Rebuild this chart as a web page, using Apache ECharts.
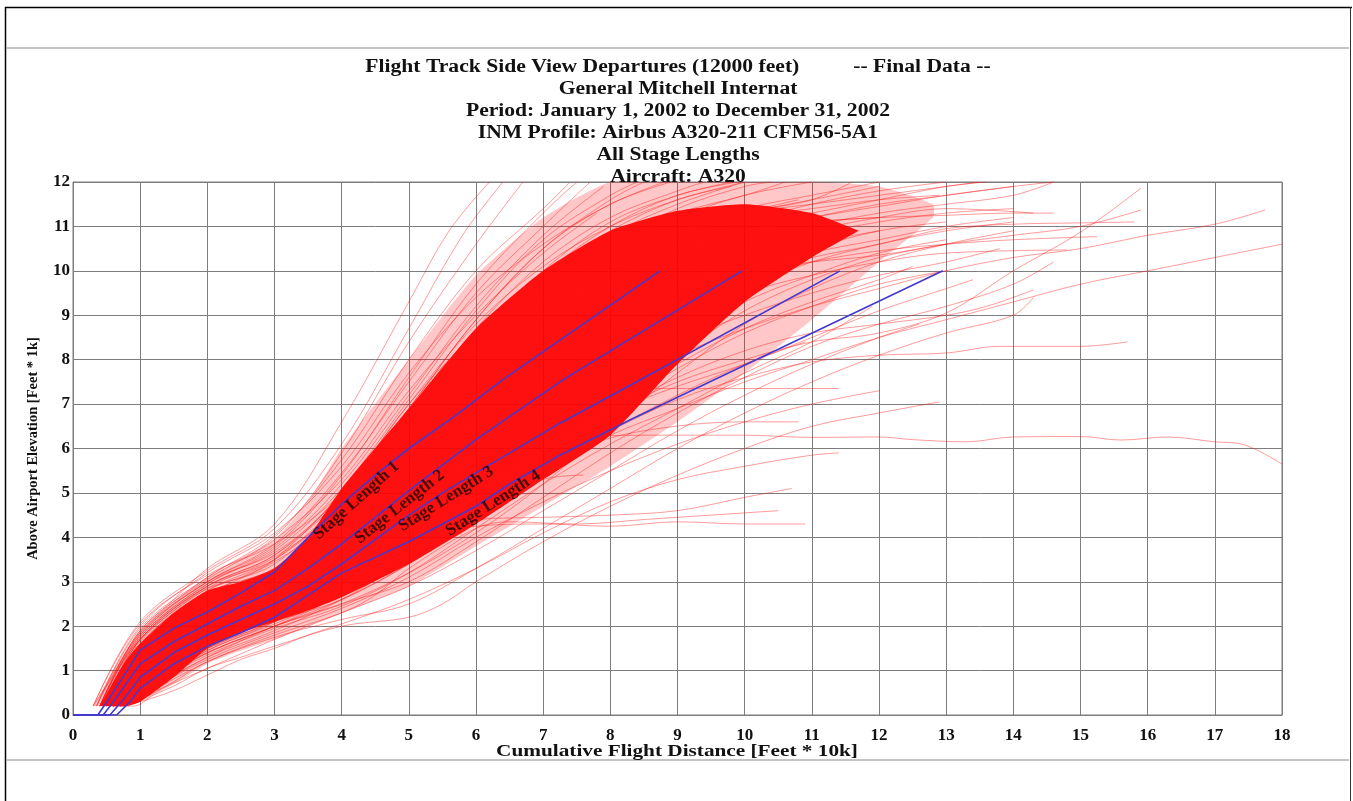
<!DOCTYPE html>
<html>
<head>
<meta charset="utf-8">
<title>Flight Track Side View Departures</title>
<script src="https://cdn.jsdelivr.net/npm/echarts@6/dist/echarts.min.js"></script>
<style>
  html, body { margin: 0; padding: 0; background: #ffffff; }
  #chart { width: 1353px; height: 801px; }
</style>
</head>
<body>
<div id="chart"></div>
<script>
// ---- Text -----------------------------------------------------------------
const titleLines = [
  'Flight Track Side View Departures (12000 feet)          -- Final Data --',
  'General Mitchell Internat',
  'Period: January 1, 2002 to December 31, 2002',
  'INM Profile: Airbus A320-211 CFM56-5A1',
  'All Stage Lengths',
  'Aircraft: A320'
];
const xAxisTitle = 'Cumulative Flight Distance [Feet * 10k]';
const yAxisTitle = 'Above Airport Elevation [Feet * 1k]';
const xTickLabels = ['0','1','2','3','4','5','6','7','8','9','10','11','12','13','14','15','16','17','18'];
const yTickLabels = ['0','1','2','3','4','5','6','7','8','9','10','11','12'];

// ---- INM stage-length profiles (distance 10k ft, altitude 1k ft) ----------
const stage1 = [[0,0],[0.37,0],[0.55,0.4],[1,1.46],[1.5,1.95],[2,2.32],[2.5,2.75],[3,3.22],[3.5,4.0],[4,4.75],[4.5,5.4],[5,6.0],[5.66,6.7],[6.4,7.55],[7.25,8.44],[8.74,10]];
const stage2 = [[0,0],[0.45,0],[0.65,0.4],[1,1.15],[1.5,1.65],[2,2.05],[2.5,2.45],[3,2.8],[3.5,3.3],[4,3.85],[4.5,4.45],[5,5.05],[6,6.2],[7.3,7.55],[9.96,10]];
const stage3 = [[0,0],[0.55,0],[0.75,0.35],[1,0.85],[1.5,1.4],[2,1.8],[2.5,2.15],[3,2.5],[3.5,2.9],[4,3.4],[4.5,3.95],[5,4.5],[5.5,5.0],[6,5.45],[7.25,6.57],[8.29,7.42],[11.42,10]];
const stage4 = [[0,0],[0.65,0],[0.85,0.3],[1,0.6],[1.5,1.15],[2,1.55],[2.5,1.85],[3,2.2],[3.5,2.7],[4,3.2],[5,3.9],[5.5,4.3],[6,4.7],[6.5,5.2],[7.25,5.85],[8.29,6.64],[12.95,10]];
const stageNames = ['Stage Length 1','Stage Length 2','Stage Length 3','Stage Length 4'];
const stageLabelAt = [4.15, 4.8, 5.5, 6.2];

// ---- Density envelopes of the radar tracks -------------------------------
const haloX    = [0.3,0.6,1,1.5,2,2.5,3,3.5,4,5,6,7,8,9,10,11,12,12.8];
const haloHigh = [0.2,1.0,1.9,2.55,3.1,3.5,3.95,4.8,6.0,8.0,9.9,11.2,12,12,12,12,11.9,11.5];
const haloLow  = [0.2,0.2,0.3,0.7,1.15,1.45,1.7,2.0,2.3,2.9,3.8,4.7,5.6,6.6,7.7,8.9,10.2,11.2];
const coreX    = [0.4,0.6,0.8,1,1.5,2,2.5,3,3.5,4,5,6,7,8,9,10,11,11.7];
const coreHigh = [0.2,0.75,1.25,1.6,2.3,2.8,3.0,3.3,4.0,5.1,6.9,8.7,10.0,10.9,11.35,11.5,11.3,10.9];
const coreLow  = [0.2,0.2,0.2,0.3,0.85,1.5,1.85,2.1,2.35,2.65,3.4,4.3,5.3,6.3,7.9,9.3,10.3,10.9];

// ---- Individual radar tracks ----------------------------------------------
const upperTracks = [
  [[0.3,0.2],[0.6,0.9],[1,1.9],[1.5,2.6],[2,3.3],[3,4.3],[4,6.6],[5,9.3],[5.6,10.9],[6.2,12]],
  [[0.35,0.2],[1,1.85],[2,3.1],[3,4.0],[4,5.9],[5,8.4],[6,10.6],[6.7,12]],
  [[0.4,0.2],[1,1.8],[2,3.0],[3,3.8],[4,5.4],[5,7.6],[6,9.7],[7,11.3],[7.5,12]],
  [[0.4,0.2],[1,1.75],[2,2.95],[3,3.7],[4,5.1],[5,7.1],[6,9.1],[7,10.7],[8,11.7],[8.4,12]],
  [[0.45,0.2],[1,1.7],[2,2.9],[3,3.6],[4,4.9],[5,6.8],[6,8.7],[7,10.2],[8,11.2],[9,11.8],[9.4,12]],
  [[0.35,0.2],[1,2.0],[2,3.2],[3,4.1],[4,5.6],[5,7.7],[6,9.4],[7,10.6],[8,11.5],[8.8,12]],
  [[0.5,0.2],[1,1.65],[2,2.85],[3,3.55],[4,4.7],[5,6.4],[6,8.2],[7,9.7],[8,10.8],[9,11.5],[10,12]],
  [[0.4,0.2],[1,1.9],[2,3.05],[3,3.95],[4,5.3],[5,7.3],[6,9.0],[7,10.4],[7.8,11.3]],
  [[0.45,0.2],[1,1.6],[2,2.7],[3,3.45],[4,4.5],[5,6.0],[6,7.8],[7,9.4],[8,10.6],[9,11.4],[10,11.9],[10.4,12]],
  [[0.3,0.2],[1,2.05],[2,3.15],[3,3.85],[4,5.0],[5,6.9],[6,8.9],[7,10.5],[8,11.6],[8.5,12]],
  [[0.35,0.2],[1,1.95],[2,3.1],[3,4.05],[4,5.75],[5,8.0],[6,10.0],[7,11.4],[7.4,12]],
  [[0.4,0.2],[1,1.85],[2,3.0],[3,3.85],[4,5.45],[5,7.5],[6,9.5],[7,11.0],[7.7,12]],
  [[0.45,0.2],[1,1.75],[2,2.95],[3,3.75],[4,5.2],[5,7.2],[6,9.2],[7,10.8],[7.9,11.9]],
  [[0.4,0.2],[1,1.8],[2,3.0],[3,3.65],[4,4.95],[5,6.9],[6,8.9],[7,10.5],[8,11.5],[8.9,12]],
  [[0.5,0.2],[1,1.7],[2,2.9],[3,3.5],[4,4.75],[5,6.6],[6,8.5],[7,10.0],[8,11.1],[9,11.7],[9.8,12]],
  [[0.3,0.2],[1,2.1],[2,3.25],[3,4.2],[4,6.1],[5,8.7],[5.8,10.8],[6.4,12]],
  [[0.45,0.2],[1,1.7],[2,2.9],[3,3.6],[4,5.0],[5,7.0],[6,8.6],[7,9.9],[8,10.9],[9,11.6],[9.8,11.9]],
  [[0.5,0.2],[1,1.6],[2,2.8],[3,3.5],[4,4.8],[5,6.5],[6,8.3],[7,9.9],[8,11.0],[9,11.7],[9.9,12]]
];
const coreTracks = [
  [[0.4,0.2],[0.7,1.0],[1,1.6],[1.5,2.2],[2,2.7],[2.5,3.0],[3,3.3],[3.5,3.9],[4,4.8],[5,6.5],[6,8.2],[7,9.5],[8,10.5],[9,11.2],[10,11.7],[11,12]],
  [[0.45,0.2],[0.8,1.1],[1,1.5],[1.5,2.1],[2,2.6],[2.5,2.95],[3,3.2],[4,4.4],[5,6.0],[6,7.7],[7,9.1],[8,10.2],[9,10.9],[10,11.4],[11,11.7],[12,12]],
  [[0.5,0.2],[0.8,0.9],[1,1.4],[1.5,2.0],[2,2.5],[3,3.1],[4,4.1],[5,5.6],[6,7.3],[7,8.8],[8,9.9],[9,10.6],[10,11.1],[11,11.5],[12,11.8],[13,12]],
  [[0.5,0.2],[0.85,0.8],[1,1.2],[1.5,1.85],[2,2.35],[3,3.0],[4,3.9],[5,5.3],[6,7.0],[7,8.5],[8,9.7],[9,10.5],[10,11.0],[11,11.3],[12,11.6],[13,11.9],[13.6,12]],
  [[0.55,0.2],[1,1.1],[1.5,1.75],[2,2.25],[3,2.9],[4,3.7],[5,5.0],[6,6.6],[7,8.1],[8,9.4],[9,10.3],[10,10.9],[11,11.2],[12,11.5],[13,11.7],[14,11.9]],
  [[0.55,0.2],[1,1.0],[1.5,1.6],[2,2.1],[3,2.75],[4,3.5],[5,4.7],[6,6.2],[7,7.7],[8,9.0],[9,10.0],[10,10.6],[11,11.0],[12,11.3],[13,11.5],[14,11.7],[14.6,12]],
  [[0.6,0.2],[1,0.9],[1.5,1.5],[2,2.0],[3,2.6],[4,3.3],[5,4.4],[6,5.8],[7,7.3],[8,8.6],[9,9.6],[10,10.3],[11,10.8],[12,11.1],[13,11.3],[14,11.4]],
  [[0.6,0.2],[1,0.8],[1.5,1.4],[2,1.85],[3,2.45],[4,3.1],[5,4.1],[6,5.4],[7,6.8],[8,8.1],[9,9.2],[10,10.0],[11,10.5],[12,10.9],[13,11.1]],
  [[0.65,0.2],[1,0.7],[1.5,1.3],[2,1.75],[3,2.3],[4,2.9],[5,3.8],[6,5.0],[7,6.4],[8,7.7],[9,8.8],[10,9.6],[11,10.2],[12,10.6],[13,10.9],[14,11.1]],
  [[0.7,0.2],[1,0.6],[1.5,1.2],[2,1.6],[3,2.2],[4,2.75],[5,3.6],[6,4.7],[7,6.0],[8,7.3],[9,8.4],[10,9.3],[11,9.9],[12,10.4],[13,10.7]],
  [[0.4,0.2],[0.7,1.1],[1,1.7],[1.5,2.35],[2,2.85],[2.5,3.1],[3,3.5],[4,5.0],[5,7.0],[6,8.8],[7,10.1],[8,11.0],[9,11.6],[10,12]],
  [[0.45,0.2],[1,1.55],[2,2.75],[3,3.3],[4,4.6],[5,6.3],[6,8.0],[7,9.3],[8,10.3],[9,10.9],[10,11.3],[11,11.6],[12,11.9]],
  [[0.5,0.2],[1,1.3],[2,2.4],[3,3.0],[4,4.0],[5,5.5],[6,7.2],[7,8.7],[8,9.8],[9,10.7],[10,11.2],[11,11.4],[12,11.6],[12.9,11.7]],
  [[0.55,0.2],[1,1.2],[2,2.2],[3,2.85],[4,3.8],[5,5.1],[6,6.8],[7,8.3],[8,9.5],[9,10.4],[10,10.9],[11,11.1],[12,11.2]],
  [[0.6,0.2],[1,1.0],[2,2.05],[3,2.7],[4,3.4],[5,4.6],[6,6.0],[7,7.5],[8,8.8],[9,9.8],[10,10.5],[11,10.9],[12,11.2],[13,11.4],[14.3,11.3]],
  [[0.65,0.2],[1,0.85],[2,1.9],[3,2.5],[4,3.2],[5,4.3],[6,5.6],[7,7.0],[8,8.3],[9,9.4],[10,10.1],[11,10.6],[12,10.9]],
  [[0.7,0.2],[1,0.7],[2,1.7],[3,2.35],[4,3.0],[5,3.9],[6,5.2],[7,6.6],[8,7.9],[9,9.0],[10,9.9],[11,10.4],[12,10.7],[13,11.0],[14,11.2]],
  [[0.5,0.2],[1,1.45],[2,2.65],[2.5,2.95],[3,3.2],[4,4.3],[5,5.9],[6,7.6],[7,9.0],[8,10.0],[9,10.8],[10,11.3],[10.8,11.6]],
  [[0.55,0.2],[1,1.25],[2,2.3],[3,2.95],[4,3.6],[5,4.8],[6,6.4],[7,7.9],[8,9.2],[9,10.1],[10,10.7],[11,11.0]],
  [[0.6,0.2],[1,0.95],[2,1.95],[3,2.55],[4,3.25],[5,4.4],[6,5.9],[7,7.1],[8,8.4],[9,9.5],[10,10.2],[10.8,10.5]],
  [[0.75,0.2],[1,0.55],[1.5,1.1],[2,1.5],[3,2.1],[4,2.6],[5,3.4],[6,4.4],[7,5.6],[8,6.9],[9,8.1],[10,9.1],[11,9.8],[12,10.3],[13,10.6]],
  [[0.8,0.2],[1,0.45],[1.5,1.0],[2,1.4],[3,2.0],[4,2.5],[5,3.2],[6,4.1],[7,5.2],[8,6.5],[9,7.7],[10,8.8],[11,9.6],[12,10.2],[13,10.6],[14,10.9]],
  [[0.45,0.2],[1,1.6],[2,2.8],[3,3.4],[4,4.8],[5,6.8],[6,8.5],[7,9.8],[8,10.7],[9,11.3],[10,11.7],[10.6,12]],
  [[0.5,0.2],[1,1.35],[2,2.45],[3,3.05],[4,4.2],[5,5.8],[6,7.5],[7,8.9],[8,10.0],[9,10.8],[10,11.3],[11,11.6],[11.6,12]]
];
const lowerTracks = [
  [[0.55,0.2],[0.9,0.2],[1.2,0.45],[1.5,0.65],[2,1.05],[2.5,1.3],[3,1.55],[4,2.0],[5,2.2],[5.5,2.5],[6,3.0],[7,3.9],[8,4.7],[9,5.4],[10,6.0],[11,6.5],[12,6.8],[12.9,7.05]],
  [[0.6,0.2],[1,0.35],[1.5,0.75],[2,1.2],[3,1.75],[4,2.15],[5,2.5],[6,3.3],[7,4.2],[8,5.1],[9,6.0],[10,6.8],[11,7.5],[12,8.1],[13,8.6],[14,9.0],[14.3,9.4]],
  [[0.65,0.2],[1,0.45],[2,1.3],[3,1.9],[4,2.6],[5,3.5],[5.5,4.0],[6,4.25],[7,4.3],[8,4.25],[9,4.35],[10,4.3],[10.9,4.3]],
  [[0.6,0.2],[1,0.5],[2,1.45],[3,2.1],[4,3.0],[4.5,3.6],[5,4.1],[6,4.4],[7,4.45],[8,4.5],[9,4.6],[10,4.9],[10.7,5.1]],
  [[0.55,0.2],[1,0.7],[2,1.6],[3,2.2],[4,2.9],[5,3.8],[6,4.5],[7,5.3],[7.6,5.4]],
  [[0.6,0.2],[1,0.65],[2,1.6],[3,2.3],[4,3.1],[5,4.2],[6,5.4],[6.7,6.1],[7.5,6.28],[9,6.3],[10,6.3],[11,6.25],[12,6.26],[12.5,6.2],[13.3,6.15],[14,6.26],[15,6.27],[15.6,6.19],[16.3,6.26],[17,6.15],[17.4,6.1],[18,5.65]],
  [[0.6,0.2],[1,0.6],[2,1.55],[3,2.25],[4,3.0],[5,4.0],[6,5.1],[7,6.3],[8,7.1],[8.5,7.35],[10,7.35],[11.4,7.35]],
  [[0.65,0.2],[1,0.55],[2,1.5],[3,2.2],[4,2.9],[5,3.7],[6,4.7],[7,5.6],[8,6.4],[9,7.1],[10,7.6],[11,7.95],[12,8.1],[13,8.15],[13.8,8.3],[15,8.3],[15.7,8.4]],
  [[0.6,0.2],[1,0.5],[2,1.4],[3,2.0],[4,2.7],[5,3.6],[6,4.6],[7,5.5],[8,6.3],[9,6.9],[10,7.5],[11,8.0],[12,8.5],[13,8.9],[14,9.3],[15,9.7],[16,10.0],[17,10.3],[18,10.6]],
  [[0.7,0.2],[1,0.3],[1.5,0.55],[2,0.9],[2.5,1.25],[3,1.5],[3.5,1.8],[4,2.05],[5,2.6],[6,3.3],[7,4.1],[8,4.8],[9,5.3],[10,5.6],[11,5.85],[11.4,5.9]],
  [[0.65,0.2],[1,0.4],[2,1.05],[3,1.7],[4,2.3],[5,2.9],[6,3.7],[7,4.6],[8,5.5],[9,6.4],[10,7.2],[11,7.9],[12,8.5],[12.6,8.8]],
  [[0.6,0.2],[1,0.55],[2,1.35],[3,1.95],[4,2.45],[5,3.2],[6,4.2],[7,5.2],[8,6.1],[9,6.9],[10,7.7],[11,8.4],[11.9,9.2]],
  [[0.55,0.2],[1,0.8],[2,1.7],[3,2.3],[4,2.95],[5,3.9],[6,4.9],[7,5.9],[8,6.9],[9,7.8],[10,8.6],[11,9.2],[12,9.7],[13,10.0]],
  [[0.7,0.2],[1,0.4],[2,1.2],[3,1.8],[4,2.3],[4.5,2.7],[5,3.3],[6,4.2],[6.5,4.35],[7.5,4.3],[8.5,4.4],[9.5,4.5],[10.5,4.6]],
  [[0.6,0.2],[1,0.5],[2,1.3],[3,2.0],[4,2.5],[5,3.0],[6,3.9],[7,4.9],[8,5.9],[9,6.8],[10,7.6],[11,8.3],[12,8.8],[13,9.2],[14,9.7],[14.6,10.2]],
  [[0.6,0.2],[1,0.7],[2,1.7],[3,2.3],[4,3.0],[5,3.9],[6,5.0],[7,6.0],[8,6.8],[9,7.4],[10,7.9],[11,8.5],[12,9.1],[13,9.6],[13.4,9.8]],
  [[0.65,0.2],[1,0.55],[2,1.45],[3,2.05],[4,2.7],[5,3.5],[6,4.5],[7,5.5],[8,6.4],[9,7.2],[10,7.9],[10.9,8.4]],
  [[0.6,0.2],[1,0.6],[2,1.5],[3,2.1],[4,2.8],[5,3.7],[6,4.9],[7,6.0],[8,7.0],[9,7.9],[10,8.7],[11,9.3],[12,9.8],[12.5,10.1]],
  [[0.7,0.2],[1,0.45],[2,1.25],[3,1.85],[4,2.4],[5,3.1],[6,4.0],[7,4.8],[8,5.5],[9,6.1],[10,6.6],[11,7.0],[12,7.3]],
  [[0.65,0.2],[1,0.5],[2,1.4],[3,2.0],[4,2.6],[5,3.4],[6,4.4],[7,5.6],[7.5,6.0],[8.5,6.4],[10,6.6],[10.8,6.6]],
  [[0.55,0.2],[1,0.85],[2,1.8],[3,2.4],[4,3.1],[5,4.1],[6,5.3],[7,6.6],[8,7.6],[9,8.4],[10,9.0],[11,9.5],[12,9.9],[13,10.2],[13.8,10.5]]
];
const farTracks = [
  [[0.5,0.2],[1,1.2],[2,2.3],[3,2.9],[4,3.6],[5,4.7],[6,6.0],[7,7.2],[8,8.3],[9,9.2],[10,9.9],[11,10.3],[12,10.6],[13,10.95],[14,11.05],[15,11.08],[15.8,11.1]],
  [[0.6,0.2],[1,0.8],[2,1.8],[3,2.4],[4,3.0],[5,3.9],[6,4.9],[7,5.9],[8,6.8],[9,7.5],[10,8.0],[11,8.4],[12,8.6],[13,9.05],[14,10.0],[15,10.87],[15.9,11.86]],
  [[0.55,0.2],[1,0.9],[2,1.95],[3,2.55],[4,3.2],[5,4.2],[6,5.4],[7,6.5],[8,7.4],[9,8.1],[10,8.7],[11,9.2],[12,9.6],[13,10.0],[14,10.3],[15,10.5],[16,10.8],[17,11.05],[17.75,11.37]],
  [[0.5,0.2],[1,1.3],[2,2.4],[3,3.0],[4,3.9],[5,5.2],[6,6.7],[7,8.0],[8,9.0],[9,9.6],[10,10.0],[11,10.2],[12,10.35],[13,10.6],[14,10.8],[15,11.0],[15.9,11.37]],
  [[0.45,0.2],[1,1.5],[2,2.6],[3,3.2],[4,4.3],[5,5.9],[6,7.5],[7,8.9],[8,9.9],[9,10.5],[10,10.9],[11,11.1],[12,11.2],[13,11.25],[14,11.3],[14.6,11.3]],
  [[0.55,0.2],[1,1.1],[2,2.15],[3,2.75],[4,3.4],[5,4.5],[6,5.9],[7,7.3],[8,8.4],[9,9.2],[10,9.8],[11,10.2],[12,10.45],[13,10.6],[14,10.7],[15.25,10.77]],
  [[0.6,0.2],[1,0.95],[2,2.0],[3,2.6],[4,3.3],[5,4.4],[6,5.7],[7,7.0],[8,8.0],[9,8.9],[10,9.5],[11,9.9],[12,10.2],[13,10.4],[14.8,10.47]],
  [[0.5,0.2],[1,1.4],[2,2.5],[3,3.05],[4,4.0],[5,5.5],[6,7.2],[7,8.6],[8,9.7],[9,10.4],[10,10.9],[11,11.2],[12,11.45],[13,11.7],[14,11.9],[14.6,12]],
  [[0.45,0.2],[1,1.55],[2,2.6],[3,3.15],[4,4.4],[5,6.1],[6,7.9],[7,9.3],[8,10.3],[9,10.9],[10,11.3],[11,11.5],[12,11.7],[13,11.9],[13.5,12]],
  [[0.65,0.2],[1,0.6],[2,1.65],[3,2.3],[4,2.9],[5,3.7],[6,4.7],[7,5.8],[8,6.8],[9,7.6],[10,8.2],[11,8.6],[12,8.8],[13,9.0],[13.6,9.2],[14.3,9.57]]
];

// ---- Styling ---------------------------------------------------------------
const SERIF = '"Liberation Serif", "Times New Roman", serif';
const GRID_COLOR = '#7d7d7d';
const TRACK_COLOR = 'rgba(255, 20, 20, 0.42)';
const STAGE_COLOR = '#4338d0';

const chart = echarts.init(document.getElementById('chart'), null, { renderer: 'canvas' });

function bandSeries(xs, hi, lo, opacity) {
  return {
    type: 'custom',
    silent: true,
    z: 1,
    clip: true,
    data: [[xs[0], lo[0]]],
    renderItem: function (params, api) {
      const pts = [];
      for (let i = 0; i < xs.length; i++) pts.push(api.coord([xs[i], hi[i]]));
      for (let i = xs.length - 1; i >= 0; i--) pts.push(api.coord([xs[i], lo[i]]));
      return { type: 'polygon', shape: { points: pts, smooth: 0.2 }, style: { fill: '#ff0000', opacity: opacity } };
    }
  };
}

function trackSeries(track) {
  return {
    type: 'line', data: track, showSymbol: false, smooth: 0.35, silent: true, z: 2,
    lineStyle: { color: TRACK_COLOR, width: 1 }
  };
}

const stages = [stage1, stage2, stage3, stage4];
const series = [
  bandSeries(haloX, haloHigh, haloLow, 0.22),
  bandSeries(coreX, coreHigh, coreLow, 0.92)
];
[upperTracks, coreTracks, lowerTracks, farTracks].forEach(group => group.forEach(t => series.push(trackSeries(t))));
stages.forEach(s => series.push({
  type: 'line', data: s, showSymbol: false, silent: true, z: 3,
  lineStyle: { color: STAGE_COLOR, width: 1.6 }
}));

const graphic = [
  { type: 'line', shape: { x1: 5, y1: 7.5, x2: 1352, y2: 7.5 }, style: { stroke: '#000', lineWidth: 1.5 } },
  { type: 'line', shape: { x1: 5.5, y1: 7, x2: 5.5, y2: 801 }, style: { stroke: '#000', lineWidth: 1.5 } },
  { type: 'line', shape: { x1: 1350.5, y1: 7, x2: 1350.5, y2: 801 }, style: { stroke: '#333', lineWidth: 1 } },
  { type: 'line', shape: { x1: 7, y1: 48, x2: 1349, y2: 48 }, style: { stroke: '#c4c4c4', lineWidth: 2 } },
  { type: 'line', shape: { x1: 7, y1: 760, x2: 1349, y2: 760 }, style: { stroke: '#c4c4c4', lineWidth: 2 } }
];
titleLines.forEach((t, i) => graphic.push({
  type: 'text', x: 678, y: 67 + i * 22.1, scaleX: 1.2, z: 10,
  style: { text: t, font: 'bold 18px ' + SERIF, fill: '#111', textAlign: 'center', textVerticalAlign: 'middle' }
}));
graphic.push({
  type: 'text', x: 677, y: 752, scaleX: 1.25, z: 10,
  style: { text: xAxisTitle, font: 'bold 17px ' + SERIF, fill: '#111', textAlign: 'center', textVerticalAlign: 'middle' }
});

const option = {
  animation: false,
  backgroundColor: '#ffffff',
  grid: { left: 73, right: 71, top: 182, bottom: 86, show: true, borderColor: GRID_COLOR, borderWidth: 1 },
  xAxis: {
    type: 'value', min: 0, max: 18, interval: 1,
    axisLine: { show: true, lineStyle: { color: GRID_COLOR } },
    axisTick: { show: false },
    splitLine: { show: true, lineStyle: { color: GRID_COLOR, width: 1 } },
    axisLabel: { margin: 12, color: '#111', fontFamily: SERIF, fontWeight: 'bold', fontSize: 17,
      formatter: v => xTickLabels[Math.round(v)] }
  },
  yAxis: {
    type: 'value', min: 0, max: 12, interval: 1,
    name: yAxisTitle, nameLocation: 'middle', nameGap: 32, nameRotate: 90,
    nameTextStyle: { color: '#111', fontFamily: SERIF, fontWeight: 'bold', fontSize: 14.5 },
    axisLine: { show: true, lineStyle: { color: GRID_COLOR } },
    axisTick: { show: false },
    splitLine: { show: true, lineStyle: { color: GRID_COLOR, width: 1 } },
    axisLabel: { margin: 3, color: '#111', fontFamily: SERIF, fontWeight: 'bold', fontSize: 17,
      formatter: v => yTickLabels[Math.round(v)] }
  },
  graphic: graphic,
  series: series
};
chart.setOption(option);

// Stage-length captions: anchored on each profile, rotated along it, set just below the line.
function altitudeAt(profile, x) {
  for (let i = 1; i < profile.length; i++) {
    const a = profile[i - 1], b = profile[i];
    if (x <= b[0]) return a[1] + (b[1] - a[1]) * (x - a[0]) / (b[0] - a[0]);
  }
  return profile[profile.length - 1][1];
}
const labelData = stages.map((s, i) => {
  const x = stageLabelAt[i];
  const p0 = chart.convertToPixel({ gridIndex: 0 }, [x - 0.3, altitudeAt(s, x - 0.3)]);
  const p1 = chart.convertToPixel({ gridIndex: 0 }, [x + 0.3, altitudeAt(s, x + 0.3)]);
  const pc = chart.convertToPixel({ gridIndex: 0 }, [x, altitudeAt(s, x)]);
  const ang = Math.atan2(p0[1] - p1[1], p1[0] - p0[0]);
  const d = 7;
  const pos = chart.convertFromPixel({ gridIndex: 0 }, [pc[0] + Math.sin(ang) * d, pc[1] + Math.cos(ang) * d]);
  return { value: pos, label: { rotate: ang * 180 / Math.PI, formatter: stageNames[i] } };
});
chart.setOption({
  series: series.concat([{
    type: 'scatter', data: labelData, symbolSize: 1, silent: true, z: 5,
    itemStyle: { color: 'rgba(0,0,0,0)' },
    label: { show: true, position: 'inside', color: '#1a0505', fontFamily: SERIF, fontWeight: 'bold', fontSize: 17 }
  }])
});
</script>
</body>
</html>
